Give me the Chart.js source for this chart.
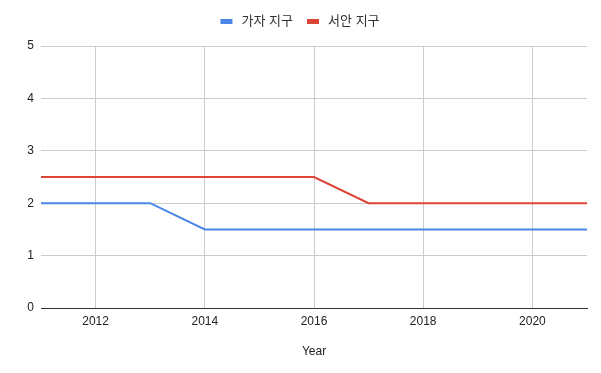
<!DOCTYPE html>
<html>
<head>
<meta charset="utf-8">
<script src="https://cdn.jsdelivr.net/npm/chart.js@4"></script>
<style>
  html, body { margin: 0; padding: 0; background: #fff; }
  #wrap { width: 601px; height: 373px; }
</style>
</head>
<body>
<div id="wrap"><canvas id="canvas" width="601" height="373"></canvas></div>
<script>
const years = [2011, 2012, 2013, 2014, 2015, 2016, 2017, 2018, 2019, 2020, 2021];
const gazaValues = [2, 2, 2, 1.5, 1.5, 1.5, 1.5, 1.5, 1.5, 1.5, 1.5];
const westBankValues = [2.5, 2.5, 2.5, 2.5, 2.5, 2.5, 2, 2, 2, 2, 2];
const seriesNames = ["가자 지구", "서안 지구"];
const xTicks = [2012, 2014, 2016, 2018, 2020];
const yTicks = [0, 1, 2, 3, 4, 5];

const fontFamily = "'Liberation Sans', Arial, 'Noto Sans CJK KR', sans-serif";

function toPoints(values) {
    return years.map((y, i) => ({ x: y, y: values[i] }));
}

// push the plot area down so it starts where the reference does
const legendSpacer = {
    id: 'legendSpacer',
    beforeInit(chart) {
        const fit = chart.legend.fit;
        chart.legend.fit = function () {
            fit.bind(chart.legend)();
            this.height += 8;
        };
    }
};

new Chart(document.getElementById('canvas'), {
    type: 'line',
    data: {
        datasets: [{
            label: seriesNames[0],
            data: toPoints(gazaValues),
            borderColor: '#4a86e8',
            backgroundColor: '#4a86e8',
            borderWidth: 2,
            pointRadius: 0,
            tension: 0
        }, {
            label: seriesNames[1],
            data: toPoints(westBankValues),
            borderColor: '#db4437',
            backgroundColor: '#db4437',
            borderWidth: 2,
            pointRadius: 0,
            tension: 0
        }]
    },
    options: {
        responsive: false,
        animation: false,
        layout: { padding: 0 },
        plugins: {
            legend: {
                position: 'top',
                labels: {
                    boxWidth: 10,
                    boxHeight: 3,
                    padding: 15,
                    color: '#333',
                    font: { family: fontFamily, size: 13 },
                    generateLabels: chart => {
                        // a leading space gives the wider box-to-text gap of the reference
                        const items = Chart.defaults.plugins.legend.labels.generateLabels(chart);
                        items.forEach(item => { item.text = ' ' + item.text; });
                        return items;
                    }
                }
            },
            tooltip: { enabled: false }
        },
        scales: {
            x: {
                type: 'linear',
                min: 2011,
                max: 2021,
                afterBuildTicks: scale => { scale.ticks = xTicks.map(v => ({ value: v })); },
                afterFit: scale => { scale.height = 65; },
                grid: { color: '#cccccc', drawTicks: false },
                border: { color: '#333333', width: 1 },
                ticks: {
                    padding: 6,
                    color: '#222',
                    font: { family: fontFamily, size: 12 },
                    callback: v => String(v)
                },
                title: {
                    display: true,
                    text: 'Year',
                    color: '#222',
                    font: { family: fontFamily, size: 12 },
                    padding: { top: 0, bottom: 14 }
                }
            },
            y: {
                min: 0,
                max: 5,
                afterBuildTicks: scale => { scale.ticks = yTicks.map(v => ({ value: v })); },
                afterFit: scale => { scale.width = 41; },
                grid: { color: '#cccccc', drawTicks: false },
                border: { display: false },
                ticks: {
                    padding: 7,
                    color: '#222',
                    font: { family: fontFamily, size: 12 }
                }
            },
            // empty right axis: keeps a right margin without shifting the centred legend
            yRight: {
                position: 'right',
                min: 0,
                max: 5,
                afterFit: scale => { scale.width = 14; },
                grid: { display: false, drawOnChartArea: false },
                border: { display: false },
                ticks: { display: false }
            }
        }
    },
    plugins: [legendSpacer]
});
</script>
</body>
</html>
